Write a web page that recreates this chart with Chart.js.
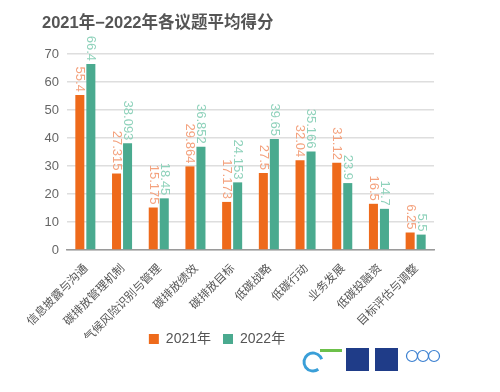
<!DOCTYPE html>
<html>
<head>
<meta charset="utf-8">
<script src="https://cdn.jsdelivr.net/npm/chart.js@4/dist/chart.umd.min.js"></script>
<style>
  body { margin: 0; background: #fff; }
  #wrap { position: relative; width: 500px; height: 392px; }
  #title {
    position: absolute; left: 42px; top: 9px;
    font: bold 16.5px "Liberation Sans", "Noto Sans CJK SC", sans-serif;
    color: #555;
  }
</style>
</head>
<body>
<div id="wrap">
  <div id="title">2021年−2022年各议题平均得分</div>
  <canvas id="barChart" width="500" height="392"></canvas>
</div>
<script>
var categories = ['信息披露与沟通', '碳排放管理机制', '气候风险识别与管理', '碳排放绩效', '碳排放目标',
    '低碳战略', '低碳行动', '业务发展', '低碳投融资', '目标评估与调整'];
var scores2021 = [55.4, 27.315, 15.175, 29.864, 17.173, 27.5, 32.04, 31.12, 16.5, 6.25];
var scores2022 = [66.4, 38.093, 18.45, 36.852, 24.153, 39.65, 35.166, 23.9, 14.7, 5.5];
var labels2021 = ['55.4', '27.315', '15.175', '29.864', '17.173', '27.5', '32.04', '31.12', '16.5', '6.25'];
var labels2022 = ['66.4', '38.093', '18.45', '36.852', '24.153', '39.65', '35.166', '23.9', '14.7', '5.5'];
var yTicks = [0, 10, 20, 30, 40, 50, 60, 70];

var labelColors = ['#f4a27e', '#8fd2bb'];
var valueTexts = [labels2021, labels2022];

// rotated value labels above each bar
var valueLabels = {
    id: 'valueLabels',
    beforeDraw: function (chart) {
        // let the long rotated category names run past the axis box
        chart.scales.x._computeLabelArea = function () {};
    },
    afterDatasetsDraw: function (chart) {
        var ctx = chart.ctx;
        chart.data.datasets.forEach(function (ds, i) {
            var meta = chart.getDatasetMeta(i);
            meta.data.forEach(function (bar, j) {
                ctx.save();
                ctx.translate(bar.x, bar.y - 3);
                ctx.rotate(Math.PI / 2);
                ctx.font = '13px "Liberation Sans", sans-serif';
                ctx.fillStyle = labelColors[i];
                ctx.textAlign = 'right';
                ctx.textBaseline = 'middle';
                ctx.fillText(valueTexts[i][j], 0, 0);
                ctx.restore();
            });
        });
    }
};

// small logo marks, bottom right
var logos = {
    id: 'logos',
    afterDraw: function (chart) {
        var ctx = chart.ctx;
        ctx.save();
        ctx.strokeStyle = '#3a9fd8';
        ctx.lineWidth = 3;
        ctx.beginPath();
        ctx.arc(313, 362, 9, 0.3 * Math.PI, 1.9 * Math.PI);
        ctx.stroke();
        ctx.fillStyle = '#6cc04a';
        ctx.fillRect(320, 349, 22, 3);
        ctx.fillStyle = '#1f3c88';
        ctx.fillRect(346, 348, 23, 23);
        ctx.fillRect(375, 348, 23, 23);
        ctx.strokeStyle = '#3a7fd0';
        ctx.lineWidth = 1.2;
        for (var k = 0; k < 3; k++) {
            ctx.beginPath();
            ctx.arc(412 + k * 11, 356, 5.5, 0, 2 * Math.PI);
            ctx.stroke();
        }
        ctx.restore();
    }
};

var ctx = document.getElementById('barChart').getContext('2d');
var myChart = new Chart(ctx, {
    type: 'bar',
    data: {
        labels: categories,
        datasets: [{
            label: '2021年',
            data: scores2021,
            backgroundColor: '#ee6a1b',
            categoryPercentage: 0.6,
            barPercentage: 0.82
        }, {
            label: '2022年',
            data: scores2022,
            backgroundColor: '#4aaa8f',
            categoryPercentage: 0.6,
            barPercentage: 0.82
        }]
    },
    options: {
        responsive: false,
        animation: false,
        layout: { padding: { top: 54, right: 66, bottom: 36, left: 0 } },
        plugins: {
            title: { display: false },
            tooltip: { enabled: false },
            legend: {
                position: 'bottom',
                labels: {
                    boxWidth: 10,
                    boxHeight: 10,
                    padding: 12,
                    color: '#555',
                    font: { size: 14, family: '"Liberation Sans", "Noto Sans CJK SC", sans-serif' }
                }
            }
        },
        scales: {
            x: {
                grid: { display: false },
                border: { color: '#9a9a9a', width: 1.5 },
                ticks: {
                    minRotation: 45,
                    maxRotation: 45,
                    color: '#555',
                    padding: 3,
                    font: { size: 11.5, family: '"Noto Sans CJK SC", sans-serif' }
                },
                afterFit: function (scale) { scale.height = 70; }
            },
            y: {
                min: 0,
                max: 70,
                afterBuildTicks: function (scale) {
                    scale.ticks = yTicks.map(function (v) { return { value: v }; });
                },
                grid: { color: '#dedede', lineWidth: 1.5, drawTicks: false },
                border: { display: false },
                ticks: {
                    color: '#666',
                    padding: 8,
                    font: { size: 13, family: '"Liberation Sans", sans-serif' }
                },
                afterFit: function (scale) { scale.width = 67; }
            }
        }
    },
    plugins: [valueLabels, logos]
});
</script>
</body>
</html>
